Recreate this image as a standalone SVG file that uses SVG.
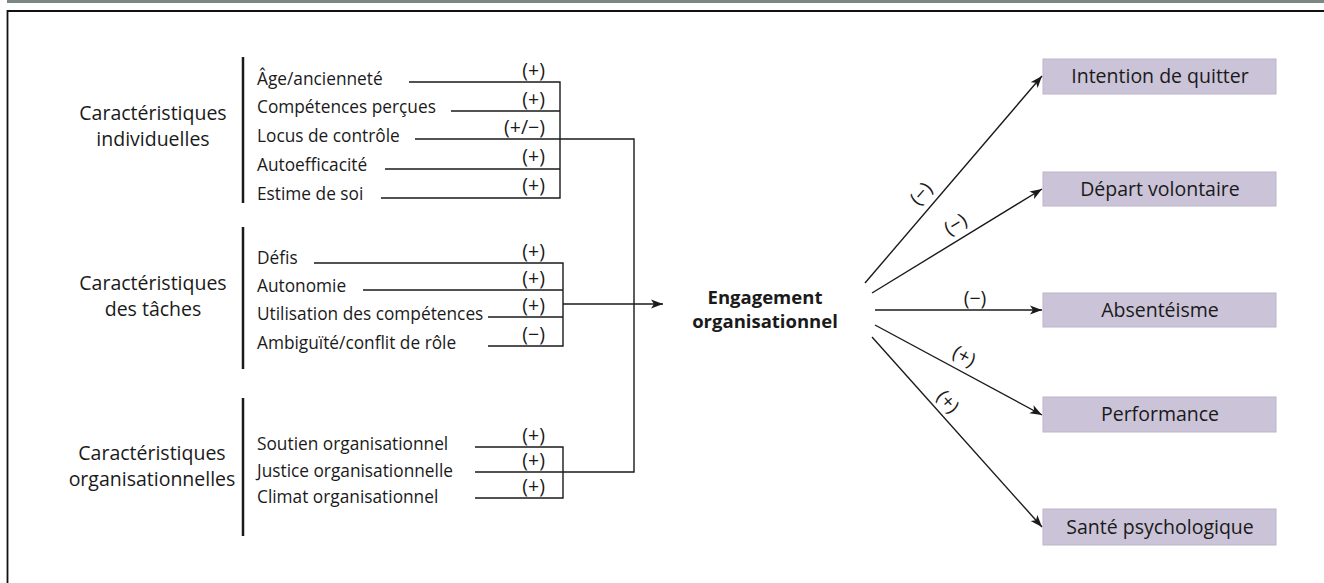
<svg xmlns="http://www.w3.org/2000/svg" width="1324" height="583" viewBox="0 0 1324 583">
<defs>
<marker id="ah" viewBox="0 0 12 10" refX="12" refY="5" markerWidth="12" markerHeight="10" markerUnits="userSpaceOnUse" orient="auto">
<path d="M0,0.5 L12,5 L0,9.5 L3,5 z" fill="#1a1a1a"/>
</marker>
<style>
.t{font-family:"Open Sans","Liberation Sans",sans-serif;fill:#1a1a1a}
.grp{font-size:19.5px;text-anchor:middle}
.it{font-size:17.3px}
.sg{font-size:19.5px;text-anchor:end}
.sgm{font-size:19.5px;text-anchor:middle}
.bx{font-size:19.5px;text-anchor:middle}
.ctr{font-size:18.5px;font-weight:bold;text-anchor:middle}
.ln{stroke:#1a1a1a;stroke-width:1.4;fill:none}
.bar{stroke:#1a1a1a;stroke-width:2.5}
.box{fill:#cbc3d7;stroke:#bdb5c9;stroke-width:1}
</style>
</defs>
<rect width="1324" height="583" fill="#ffffff"/>
<g id="frame">
<rect x="7" y="0" width="1317" height="3" fill="#7d8782"/>
<path d="M7.5,583 V11 H1324" stroke="#111" stroke-width="1.8" fill="none"/>
</g>
<g id="grp-individuelles">
<line class="bar" x1="243" y1="57" x2="243" y2="203"/>
<text class="t grp" x="153" y="120">Caractéristiques</text>
<text class="t grp" x="153" y="146">individuelles</text>
<text class="t it" x="257" y="85">Âge/ancienneté</text>
<text class="t it" x="257" y="113">Compétences perçues</text>
<text class="t it" x="257" y="142">Locus de contrôle</text>
<text class="t it" x="257" y="171">Autoefficacité</text>
<text class="t it" x="257" y="200">Estime de soi</text>
</g>
<g id="grp-taches">
<line class="bar" x1="243" y1="227" x2="243" y2="369"/>
<text class="t grp" x="153" y="290">Caractéristiques</text>
<text class="t grp" x="153" y="316">des tâches</text>
<text class="t it" x="257" y="264">Défis</text>
<text class="t it" x="257" y="292">Autonomie</text>
<text class="t it" x="257" y="320">Utilisation des compétences</text>
<text class="t it" x="257" y="349">Ambiguïté/conflit de rôle</text>
</g>
<g id="grp-organisationnelles">
<line class="bar" x1="243" y1="398" x2="243" y2="536"/>
<text class="t grp" x="152" y="460">Caractéristiques</text>
<text class="t grp" x="152" y="486">organisationnelles</text>
<text class="t it" x="257" y="450">Soutien organisationnel</text>
<text class="t it" x="257" y="477">Justice organisationnelle</text>
<text class="t it" x="257" y="503">Climat organisationnel</text>
</g>
<g id="engagement">
<text class="t ctr" x="765" y="304">Engagement</text>
<text class="t ctr" x="765" y="328">organisationnel</text>
</g>
<g id="out-intention">
<rect class="box" x="1043" y="59" width="233" height="35"/>
<text class="t bx" x="1160" y="83">Intention de quitter</text>
</g>
<g id="out-depart">
<rect class="box" x="1043" y="172" width="233" height="34"/>
<text class="t bx" x="1160" y="196">Départ volontaire</text>
</g>
<g id="out-absenteisme">
<rect class="box" x="1043" y="293" width="233" height="34"/>
<text class="t bx" x="1160" y="317">Absentéisme</text>
</g>
<g id="out-performance">
<rect class="box" x="1043" y="397" width="233" height="35"/>
<text class="t bx" x="1160" y="421">Performance</text>
</g>
<g id="out-sante">
<rect class="box" x="1043" y="509" width="233" height="36"/>
<text class="t bx" x="1160" y="534">Santé psychologique</text>
</g>
<g id="connectors">
<path class="ln" d="M409,82 H560 V198 H381 M451,111 H560 M385,169 H560"/>
<path class="ln" d="M415,139 H634 V472 H475"/>
<path class="ln" d="M314,263 H563 V346 H488 M363,290 H563 M488,317 H563"/>
<line class="ln" x1="563" y1="304" x2="663" y2="304" marker-end="url(#ah)"/>
<path class="ln" d="M475,447 H563 V498 H475"/>
<line class="ln" x1="865" y1="283" x2="1042" y2="76" marker-end="url(#ah)"/>
<line class="ln" x1="872" y1="293" x2="1042" y2="189" marker-end="url(#ah)"/>
<line class="ln" x1="875" y1="310" x2="1042" y2="310" marker-end="url(#ah)"/>
<line class="ln" x1="875" y1="325" x2="1042" y2="415" marker-end="url(#ah)"/>
<line class="ln" x1="872" y1="337" x2="1042" y2="527" marker-end="url(#ah)"/>
<text class="t sg" x="545" y="77">(+)</text>
<text class="t sg" x="545" y="106">(+)</text>
<text class="t sg" x="545" y="134">(+/−)</text>
<text class="t sg" x="545" y="163">(+)</text>
<text class="t sg" x="545" y="192">(+)</text>
<text class="t sg" x="545" y="258">(+)</text>
<text class="t sg" x="545" y="285">(+)</text>
<text class="t sg" x="545" y="312">(+)</text>
<text class="t sg" x="545" y="341">(−)</text>
<text class="t sg" x="545" y="442">(+)</text>
<text class="t sg" x="545" y="467">(+)</text>
<text class="t sg" x="545" y="493">(+)</text>
<text class="t sgm" transform="translate(926,198) rotate(-49.4)">(−)</text>
<text class="t sgm" transform="translate(959,230) rotate(-31.5)">(−)</text>
<text class="t sgm" x="975" y="305">(−)</text>
<text class="t sgm" transform="translate(961,362) rotate(28.6)">(+)</text>
<text class="t sgm" transform="translate(943,406) rotate(48.2)">(+)</text>
</g>
</svg>
